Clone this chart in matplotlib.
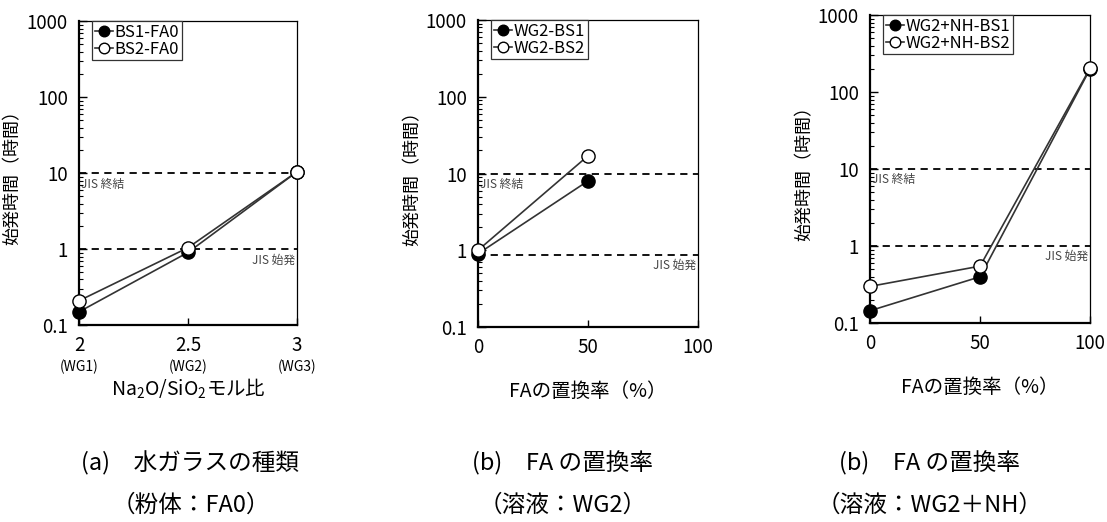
import matplotlib
matplotlib.use("Agg")
import matplotlib.pyplot as plt
from matplotlib.ticker import FixedLocator, LogLocator, NullFormatter

plt.rcParams['font.family'] = ['Noto Sans CJK JP', 'DejaVu Sans']
plt.rcParams['mathtext.default'] = 'regular'

# (a) water glass type, powder FA0
ratio_x = [2, 2.5, 3]
ratio_labels = ["2", "2.5", "3"]
ratio_sub = ["(WG1)", "(WG2)", "(WG3)"]
bs1_fa0 = [0.15, 0.91, 10.5]
bs2_fa0 = [0.21, 1.05, 10.5]

# (b) FA replacement, solution WG2
fa_x = [0, 50]
wg2_bs1 = [0.9, 8.0]
wg2_bs2 = [1.0, 17.0]

# (c) FA replacement, solution WG2+NH
fa_x3 = [0, 50, 100]
wg2nh_bs1 = [0.145, 0.40, 200]
wg2nh_bs2 = [0.30, 0.55, 205]

jis_final = [10, 10, 10]
jis_initial = [1, 0.88, 1]

ytick_vals = [0.1, 1, 10, 100, 1000]
ytick_labels = ["0.1", "1", "10", "100", "1000"]

captions = [("(a)　水ガラスの種類", "（粉体：FA0）"),
            ("(b)　FA の置換率", "（溶液：WG2）"),
            ("(b)　FA の置換率", "（溶液：WG2＋NH）")]

fig = plt.figure(figsize=(11.07, 5.22), dpi=100)
rects = [[0.0714, 0.377, 0.197, 0.582],
         [0.4318, 0.3736, 0.1987, 0.588],
         [0.786, 0.381, 0.1987, 0.590]]
axes = [fig.add_axes(r) for r in rects]
ylabel_x = [-0.266, -0.259, -0.259]

series = [
    (ratio_x, bs1_fa0, bs2_fa0, "BS1-FA0", "BS2-FA0"),
    (fa_x, wg2_bs1, wg2_bs2, "WG2-BS1", "WG2-BS2"),
    (fa_x3, wg2nh_bs1, wg2nh_bs2, "WG2+NH-BS1", "WG2+NH-BS2"),
]

line_c = '#333333'
for i, (ax, (x, y1, y2, l1, l2)) in enumerate(zip(axes, series)):
    ax.set_yscale('log')
    ax.set_ylim(0.1, 1000)
    ax.axhline(jis_final[i], color='black', lw=1.3, ls=(0, (4, 3)))
    ax.axhline(jis_initial[i], color='black', lw=1.3, ls=(0, (4, 3)))
    ax.annotate("JIS 終結", xy=(0.01, jis_final[i]), xycoords=('axes fraction', 'data'),
                xytext=(0, -3), textcoords='offset points', va='top', ha='left',
                fontsize=8.5, color='#444444')
    ax.annotate("JIS 始発", xy=(0.99, jis_initial[i]), xycoords=('axes fraction', 'data'),
                xytext=(0, -3), textcoords='offset points', va='top', ha='right',
                fontsize=8.5, color='#444444')
    ax.plot(x, y1, color=line_c, lw=1.2, marker='o', ms=9.5, mfc='black',
            mec='black', label=l1, clip_on=False, zorder=3)
    ax.plot(x, y2, color=line_c, lw=1.2, marker='o', ms=9.5, mfc='white',
            mec='black', mew=1.0, label=l2, clip_on=False, zorder=4)

    ax.yaxis.set_major_locator(FixedLocator(ytick_vals))
    ax.set_yticklabels(ytick_labels, fontsize=13.5)
    ax.yaxis.set_minor_locator(LogLocator(base=10, subs=range(2, 10), numticks=20))
    ax.yaxis.set_minor_formatter(NullFormatter())
    ax.tick_params(axis='y', which='major', direction='in', length=6, width=1, pad=8)
    ax.tick_params(axis='y', which='minor', direction='in', length=3, width=0.8)
    ax.tick_params(axis='x', direction='in', length=5, width=1, labelsize=13.5, pad=7)
    for s in ['left', 'bottom']:
        ax.spines[s].set_linewidth(1.6)
    for s in ['top', 'right']:
        ax.spines[s].set_linewidth(0.9)
    ax.set_ylabel("始発時間（時間）", fontsize=13)
    ax.yaxis.set_label_coords(ylabel_x[i], 0.5)

    leg = ax.legend(loc='upper left', bbox_to_anchor=(0.06, 1.0), borderaxespad=0,
                    fontsize=12, handlelength=1.1, handletextpad=0.1,
                    borderpad=0.15, labelspacing=0.0, fancybox=False,
                    edgecolor='#333333', framealpha=1, markerscale=0.8)
    leg.get_frame().set_linewidth(0.9)

# panel (a) x axis
ax = axes[0]
ax.set_xlim(2, 3)
ax.set_xticks(ratio_x)
ax.set_xticklabels(ratio_labels)
for xv, s in zip(ratio_x, ratio_sub):
    ax.annotate(s, xy=(xv, 0), xycoords=('data', 'axes fraction'), xytext=(0, -25),
                textcoords='offset points', ha='center', va='top', fontsize=10)
ax.set_xlabel("Na$_2$O/SiO$_2$モル比", fontsize=14, labelpad=15)

for ax in axes[1:]:
    ax.set_xlim(0, 100)
    ax.set_xticks([0, 50, 100])
    ax.set_xlabel("FAの置換率（%）", fontsize=14, labelpad=17)

cap_x = [0.172, 0.508, 0.840]
for cx, (c1, c2) in zip(cap_x, captions):
    fig.text(cx, 1 - 463 / 522, c1, ha='center', va='center', fontsize=17)
    fig.text(cx, 1 - 505 / 522, c2, ha='center', va='center', fontsize=17)

fig.savefig("out.png", dpi=100)
